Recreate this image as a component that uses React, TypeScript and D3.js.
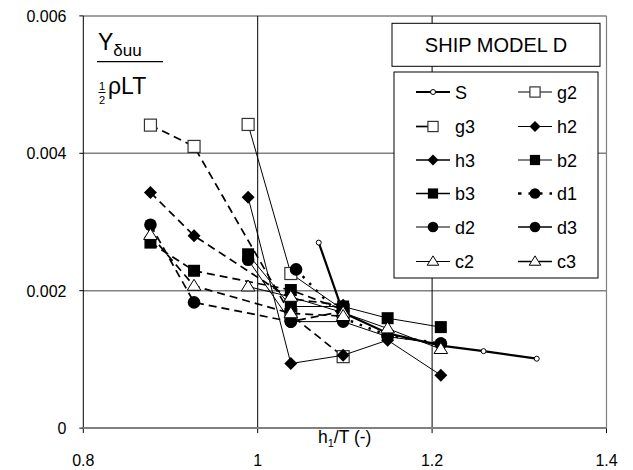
import React from "react";
import * as d3 from "d3";

// ---- data ----
const xTicks = [0.8, 1, 1.2, 1.4];
const xTickLabels = ["0.8", "1", "1.2", "1.4"];
const yTicks = [0, 0.002, 0.004, 0.006];
const yTickLabels = ["0", "0.002", "0.004", "0.006"];

const sX = [1.07, 1.098, 1.149, 1.21, 1.259, 1.32];
const sY = [0.0027, 0.00168, 0.00138, 0.0012, 0.00112, 0.00101];

const g2X = [0.989, 1.038, 1.098];
const g2Y = [0.00442, 0.00225, 0.00172];
const g3X = [0.877, 0.927, 1.038, 1.098];
const g3Y = [0.00441, 0.0041, 0.00165, 0.00104];

const h2X = [0.989, 1.038, 1.098, 1.149, 1.21];
const h2Y = [0.00336, 0.00094, 0.00106, 0.00128, 0.00077];
const h3X = [0.877, 0.927, 1.038, 1.098];
const h3Y = [0.00343, 0.0028, 0.00188, 0.00179];

const b2X = [0.989, 1.038, 1.098, 1.149, 1.21];
const b2Y = [0.00253, 0.00177, 0.00177, 0.0016, 0.00147];
const b3X = [0.877, 0.927, 1.038, 1.098];
const b3Y = [0.0027, 0.00229, 0.00201, 0.00172];

const d1X = [1.044, 1.098, 1.149, 1.21];
const d1Y = [0.00231, 0.0016, 0.00135, 0.00123];
const d2X = [0.989, 1.038, 1.098, 1.149, 1.21];
const d2Y = [0.00245, 0.00155, 0.00155, 0.00133, 0.00123];
const d3X = [0.877, 0.927, 1.038, 1.098];
const d3Y = [0.00296, 0.00183, 0.00155, 0.0017];

const c2X = [0.989, 1.038, 1.098, 1.149, 1.21];
const c2Y = [0.00206, 0.00191, 0.00168, 0.00145, 0.00115];
const c3X = [0.877, 0.927, 1.038, 1.098];
const c3Y = [0.00281, 0.00207, 0.00167, 0.00163];

type Marker = "small" | "osq" | "fsq" | "dia" | "circ" | "tri";
interface Series {
  name: string;
  xs: number[];
  ys: number[];
  marker: Marker;
  dash?: string;
  legendDash?: string;
  width: number;
}

const series: Series[] = [
  { name: "S", xs: sX, ys: sY, marker: "small", width: 2.2 },
  { name: "g2", xs: g2X, ys: g2Y, marker: "osq", width: 1 },
  { name: "g3", xs: g3X, ys: g3Y, marker: "osq", dash: "8,5", legendDash: "13,30", width: 1.7 },
  { name: "h2", xs: h2X, ys: h2Y, marker: "dia", width: 1 },
  { name: "h3", xs: h3X, ys: h3Y, marker: "dia", dash: "8,5", legendDash: "13,8", width: 1.7 },
  { name: "b2", xs: b2X, ys: b2Y, marker: "fsq", width: 1 },
  { name: "b3", xs: b3X, ys: b3Y, marker: "fsq", dash: "8,5", legendDash: "13,8", width: 1.7 },
  { name: "d1", xs: d1X, ys: d1Y, marker: "circ", dash: "2.5,7", legendDash: "3.5,7", width: 2.5 },
  { name: "d2", xs: d2X, ys: d2Y, marker: "circ", width: 1 },
  { name: "d3", xs: d3X, ys: d3Y, marker: "circ", dash: "8,5", legendDash: "13,8", width: 1.7 },
  { name: "c2", xs: c2X, ys: c2Y, marker: "tri", width: 1 },
  { name: "c3", xs: c3X, ys: c3Y, marker: "tri", dash: "8,5", legendDash: "13,8", width: 1.7 },
];

const W = 633;
const H = 470;
const L = 83.3, R = 606.5, T = 15.9, B = 428.1;
const FONT = "Arial, 'Liberation Sans', sans-serif";

function MarkerShape({ m, cx, cy, s = 1 }: { m: Marker; cx: number; cy: number; s?: number }) {
  switch (m) {
    case "small":
      return <circle cx={cx} cy={cy} r={2.5} fill="#fff" stroke="#000" strokeWidth={1} />;
    case "osq": {
      const h = 6 * s;
      return <rect x={cx - h} y={cy - h} width={2 * h} height={2 * h} fill="#fff" stroke="#333" strokeWidth={1.2} />;
    }
    case "fsq": {
      const h = 6 * s;
      return <rect x={cx - h} y={cy - h} width={2 * h} height={2 * h} fill="#000" />;
    }
    case "dia": {
      const h = 6.5 * s;
      return <path d={`M${cx},${cy - h}L${cx + h},${cy}L${cx},${cy + h}L${cx - h},${cy}Z`} fill="#000" />;
    }
    case "circ":
      return <circle cx={cx} cy={cy} r={6.3 * s} fill="#000" />;
    case "tri": {
      const w = 6.8 * s, ht = 11 * s;
      return (
        <path
          d={`M${cx},${cy - ht * 0.6}L${cx + w},${cy + ht * 0.4}L${cx - w},${cy + ht * 0.4}Z`}
          fill="#fff"
          stroke="#000"
          strokeWidth={1}
        />
      );
    }
  }
  return null;
}

export default function App() {
  const x = d3.scaleLinear().domain([0.8, 1.4]).range([L, R]);
  const y = d3.scaleLinear().domain([0, 0.006]).range([B, T]);
  const line = d3
    .line<[number, number]>()
    .x((d) => x(d[0]))
    .y((d) => y(d[1]));

  const legendRows = [92, 126.5, 160, 193.5, 227, 261.5];
  const legendCols = [{ lx: 416, mx: 433, tx: 455 }, { lx: 518, mx: 535, tx: 557 }];

  return (
    <svg
      width={W}
      height={H}
      style={{ position: "absolute", left: 0, top: 0, background: "#fff" }}
      fontFamily={FONT}
    >
      <rect x={0} y={0} width={W} height={H} fill="#fff" />
      {/* horizontal gridlines */}
      {yTicks.slice(1).map((t) => (
        <line key={"hg" + t} x1={L} x2={R} y1={y(t)} y2={y(t)} stroke="#808080" strokeWidth={1.5} />
      ))}
      {/* vertical gridlines */}
      {xTicks.slice(1, 3).map((t) => (
        <line key={"vg" + t} x1={x(t)} x2={x(t)} y1={T} y2={B} stroke="#000" strokeWidth={1} />
      ))}
      <line x1={R} x2={R} y1={T} y2={B} stroke="#808080" strokeWidth={1.2} />
      {/* axes */}
      <line x1={L} x2={L} y1={T} y2={B} stroke="#000" strokeWidth={1} />
      {yTicks.map((t) => (
        <line key={"yt" + t} x1={L - 4} x2={L} y1={y(t)} y2={y(t)} stroke="#000" strokeWidth={1} />
      ))}
      {xTicks.map((t) => (
        <line key={"xt" + t} x1={x(t)} x2={x(t)} y1={B} y2={B + 5} stroke="#000" strokeWidth={1} />
      ))}
      <line x1={L} x2={R} y1={B} y2={B} stroke="#808080" strokeWidth={2} />

      {/* tick labels */}
      {yTicks.map((t, i) => (
        <text key={"yl" + t} x={66.5} y={y(t) + 5.8} textAnchor="end" fontSize={16}>
          {yTickLabels[i]}
        </text>
      ))}
      {xTicks.map((t, i) => (
        <text key={"xl" + t} x={x(t)} y={466} textAnchor="middle" fontSize={16}>
          {xTickLabels[i]}
        </text>
      ))}
      <text x={318} y={443} fontSize={17.5}>
        h<tspan fontSize={11} dy={4}>1</tspan>
        <tspan dy={-4}>/T (-)</tspan>
      </text>

      {/* y label fraction */}
      <text x={98} y={50} fontSize={23}>
        Y<tspan fontSize={17} dy={6}>δuu</tspan>
      </text>
      <line x1={97} x2={163} y1={61.7} y2={61.7} stroke="#000" strokeWidth={1.3} />
      <text x={102} y={90} fontSize={11} textAnchor="middle">1</text>
      <line x1={98.5} x2={105.5} y1={92.5} y2={92.5} stroke="#000" strokeWidth={1} />
      <text x={102} y={104} fontSize={11} textAnchor="middle">2</text>
      <text x={108} y={94} fontSize={23}>ρLT</text>

      {/* series */}
      {series.map((s) => {
        const pts = s.xs.map((v, i) => [v, s.ys[i]] as [number, number]);
        return (
          <g key={s.name}>
            <path
              d={line(pts) || ""}
              fill="none"
              stroke="#000"
              strokeWidth={s.width}
              strokeDasharray={s.dash}
            />
            {pts.map((p, i) => (
              <MarkerShape key={i} m={s.marker} cx={x(p[0])} cy={y(p[1])} />
            ))}
          </g>
        );
      })}

      {/* legend title */}
      <rect x={392} y={23.3} width={208} height={43} fill="#fff" stroke="#000" strokeWidth={1} />
      <text x={496} y={52} textAnchor="middle" fontSize={20}>SHIP MODEL D</text>
      {/* legend */}
      <rect x={394} y={72} width={204} height={206} fill="#fff" stroke="#000" strokeWidth={1} />
      {series.map((s, i) => {
        const row = Math.floor(i / 2);
        const col = legendCols[i % 2];
        const yy = legendRows[row];
        return (
          <g key={"lg" + s.name}>
            <line
              x1={col.lx}
              x2={col.lx + 34}
              y1={yy}
              y2={yy}
              stroke="#000"
              strokeWidth={s.width}
              strokeDasharray={s.legendDash}
            />
            <MarkerShape m={s.marker} cx={col.mx} cy={yy} s={0.85} />
            <text x={col.tx} y={yy + 6.5} fontSize={18}>
              {s.name}
            </text>
          </g>
        );
      })}
    </svg>
  );
}
